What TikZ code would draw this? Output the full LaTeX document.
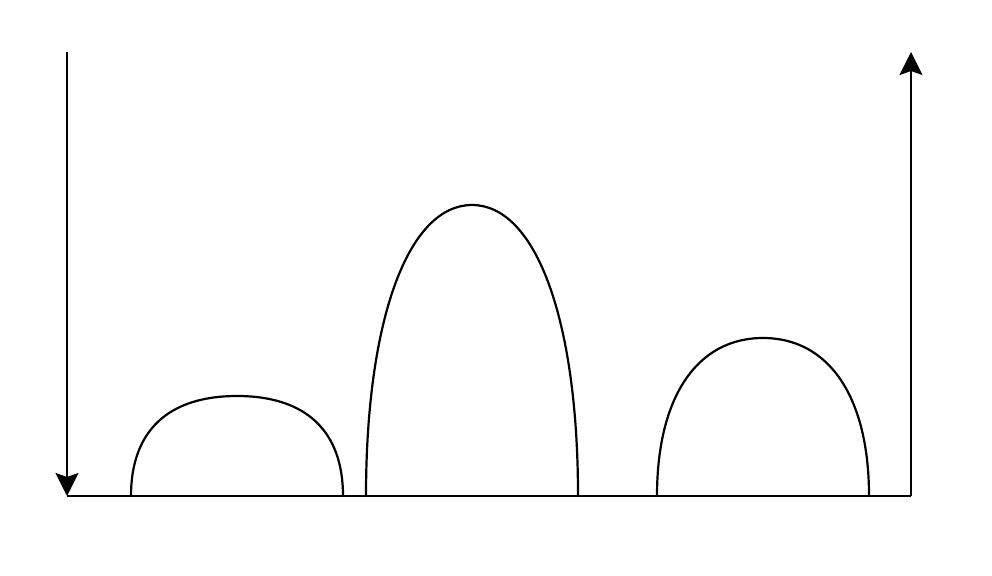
\documentclass[tikz,border=0pt]{standalone}
\usetikzlibrary{arrows.meta}
\begin{document}
\begin{tikzpicture}[x=1pt,y=-1pt,
  ln/.style={line width=2.2pt,black},
  arr/.style={ln,-{Stealth[length=23pt,width=23pt,inset=4pt]}},
  arch/.style={ln}]
\useasboundingbox (0,0) rectangle (992,575);
\coordinate (ltop) at (67,52);
\coordinate (o) at (67,496);
\coordinate (r) at (911,496);
\coordinate (rtop) at (911,52);
% axes
\draw[arr] (ltop) -- (o);
\draw[ln] (o) -- (r);
\draw[arr] (r) -- (rtop);
% arch 1
\draw[arch] (131,496) .. controls (131,431) and (168,396) .. (237,396)
  .. controls (306,396) and (343,431) .. (343,496);
% arch 2
\draw[arch] (366,496) .. controls (366,320) and (408,205) .. (472,205)
  .. controls (536,205) and (578,320) .. (578,496);
% arch 3
\draw[arch] (657,496) .. controls (657,397) and (697,338) .. (763,338)
  .. controls (829,338) and (869,397) .. (869,496);
\end{tikzpicture}
\end{document}
